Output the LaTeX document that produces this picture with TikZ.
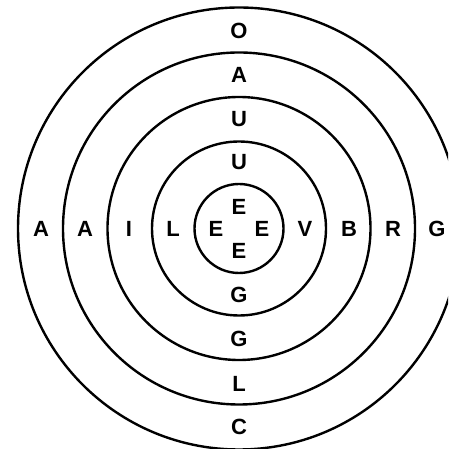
\documentclass[tikz,border=0pt]{standalone}
\usepackage{fontspec}
\setmainfont{Liberation Sans}
\usetikzlibrary{calc}
\begin{document}
\begin{tikzpicture}[x=1pt,y=1pt]
\tikzset{
  ring/.style={line width=2.4pt,draw=black},
  lbl/.style={font=\bfseries,inner sep=0pt,anchor=center,scale=2.2,transform shape}}
\useasboundingbox (0,0) rectangle (448,449);
\clip (0,0) rectangle (448,449);
\coordinate (c) at (239,220.5);
\foreach \r in {44.5,87,131.5,176,221}
  \draw[ring] (c) circle[radius=\r];
% vertical column
\node[lbl] (t1) at ($(c)+(0,198)$) {\textbf{O}};
\node[lbl] (t2) at ($(c)+(0,153.5)$) {\textbf{A}};
\node[lbl] (t3) at ($(c)+(0,109.5)$) {\textbf{U}};
\node[lbl] (t4) at ($(c)+(0,66)$) {\textbf{U}};
\node[lbl] (t5) at ($(c)+(0,22)$) {\textbf{E}};
\node[lbl] (b5) at ($(c)+(0,-22.5)$) {\textbf{E}};
\node[lbl] (b4) at ($(c)+(0,-66.5)$) {\textbf{G}};
\node[lbl] (b3) at ($(c)+(0,-110.5)$) {\textbf{G}};
\node[lbl] (b2) at ($(c)+(0,-155)$) {\textbf{L}};
\node[lbl] (b1) at ($(c)+(0,-198.5)$) {\textbf{C}};
% horizontal row
\node[lbl] (l1) at ($(c)+(-198,0)$) {\textbf{A}};
\node[lbl] (l2) at ($(c)+(-154,0)$) {\textbf{A}};
\node[lbl] (l3) at ($(c)+(-110,0)$) {\textbf{I}};
\node[lbl] (l4) at ($(c)+(-66,0)$) {\textbf{L}};
\node[lbl] (l5) at ($(c)+(-23,0)$) {\textbf{E}};
\node[lbl] (r5) at ($(c)+(23,0)$) {\textbf{E}};
\node[lbl] (r4) at ($(c)+(66,0)$) {\textbf{V}};
\node[lbl] (r3) at ($(c)+(110,0)$) {\textbf{B}};
\node[lbl] (r2) at ($(c)+(154,0)$) {\textbf{R}};
\node[lbl] (r1) at ($(c)+(198,0)$) {\textbf{G}};
\end{tikzpicture}
\end{document}
